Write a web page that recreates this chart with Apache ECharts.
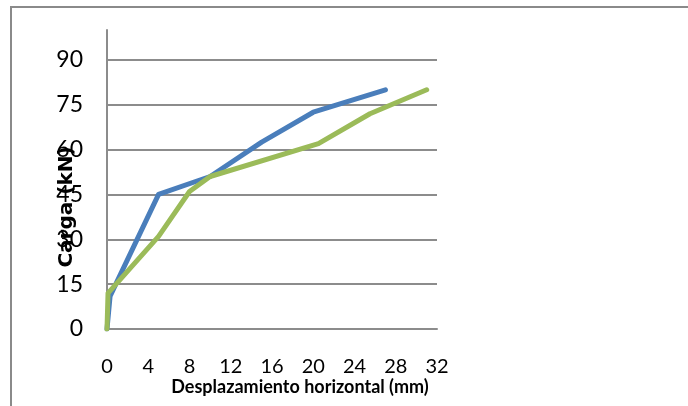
<!DOCTYPE html>
<html>
<head>
<meta charset="utf-8">
<script src="https://cdn.jsdelivr.net/npm/echarts@6/dist/echarts.min.js"></script>
<style>
  html, body { margin: 0; padding: 0; background: #fff; }
  #main { width: 688px; height: 406px; }
</style>
</head>
<body>
<div id="main"></div>
<script>
var myChart = echarts.init(document.getElementById('main'));

// desplazamiento (mm) / carga (kN)
var serieAzulX = [0, 0.3, 5, 10, 15, 20, 27];
var serieAzulY = [0, 11, 45, 51, 62.5, 72.5, 80];
var serieVerdeX = [0, 0.1, 5, 8, 10, 20.5, 25.5, 31];
var serieVerdeY = [0, 12, 31, 46, 51, 62, 72, 80];
var xTicks = [0, 4, 8, 12, 16, 20, 24, 28, 32];
var yTicks = [0, 15, 30, 45, 60, 75, 90];

var fuente = "Lato, 'Open Sans', sans-serif";

function pares(xs, ys) {
  return xs.map(function (x, i) { return [x, ys[i]]; });
}

option = {
  animation: false,
  graphic: [{
    type: 'rect',
    shape: { x: 11, y: 7, width: 700, height: 420 },
    style: { fill: 'none', stroke: '#8a8a8a', lineWidth: 2 },
    silent: true
  }],
  grid: { left: 107, right: 251, top: 30, bottom: 77 },
  xAxis: {
    type: 'value',
    min: xTicks[0],
    max: xTicks[xTicks.length - 1],
    interval: 4,
    name: 'Desplazamiento horizontal (mm)',
    nameLocation: 'middle',
    nameGap: 49,
    nameMoveOverlap: false,
    nameTextStyle: { fontFamily: fuente, fontWeight: 'bold', fontSize: 18, color: '#000', padding: [0, 0, 0, 56] },
    axisLine: { show: true, lineStyle: { color: '#8c8c8c', width: 2 } },
    axisTick: { show: false },
    axisLabel: { fontFamily: fuente, fontSize: 20, color: '#000', margin: 28 },
    splitLine: { show: false }
  },
  yAxis: {
    type: 'value',
    min: 0,
    max: 100,
    interval: 15,
    name: 'Carga (kN)',
    nameLocation: 'middle',
    nameGap: 30,
    nameMoveOverlap: false,
    nameTextStyle: { fontFamily: "'DejaVu Sans', sans-serif", fontWeight: 'bold', fontSize: 20, color: '#000', padding: [0, 55, 0, 0] },
    axisLine: { show: true, lineStyle: { color: '#8c8c8c', width: 2 } },
    axisTick: { show: false },
    axisLabel: {
      fontFamily: fuente, fontSize: 23, color: '#000', margin: 24, showMaxLabel: false,
      formatter: function (v) { return yTicks.indexOf(v) >= 0 ? String(v) : ''; }
    },
    splitLine: { show: true, showMaxLine: false, lineStyle: { color: '#8c8c8c', width: 2 } }
  },
  series: [
    {
      name: 'Serie 1',
      type: 'line',
      data: pares(serieAzulX, serieAzulY),
      symbol: 'none',
      color: '#4a7ebb',
      lineStyle: { width: 5, cap: 'round', join: 'round' }
    },
    {
      name: 'Serie 2',
      type: 'line',
      data: pares(serieVerdeX, serieVerdeY),
      symbol: 'none',
      color: '#9bbb59',
      lineStyle: { width: 5, cap: 'round', join: 'round' }
    }
  ]
};
myChart.setOption(option);
</script>
</body>
</html>
